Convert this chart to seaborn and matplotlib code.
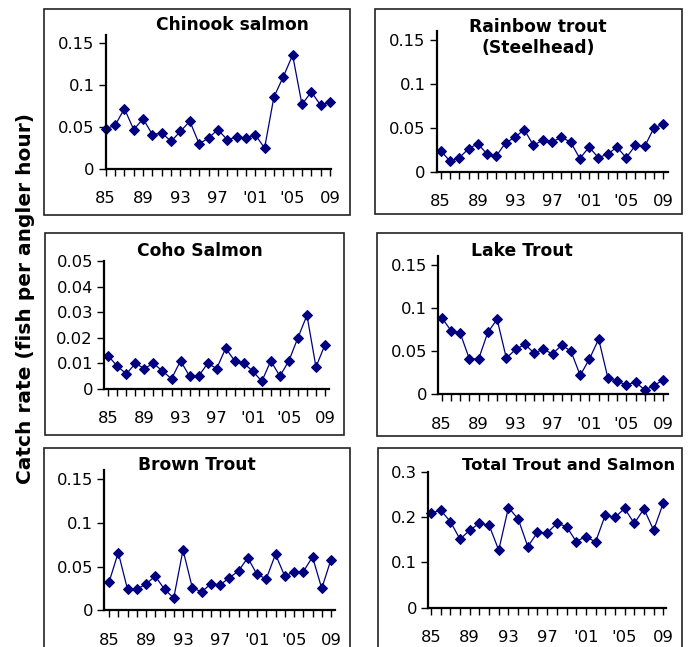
import matplotlib
matplotlib.use("Agg")
import matplotlib.pyplot as plt
from matplotlib.patches import Rectangle
import seaborn as sns
import pandas as pd

# ---------------- data ----------------
years = list(range(1985, 2010))
chinook = [0.048, 0.052, 0.072, 0.047, 0.060, 0.041, 0.043, 0.033, 0.045, 0.057,
           0.030, 0.037, 0.047, 0.035, 0.038, 0.037, 0.041, 0.025, 0.086, 0.110,
           0.136, 0.077, 0.092, 0.076, 0.080]
rainbow = [0.024, 0.012, 0.016, 0.026, 0.032, 0.020, 0.018, 0.033, 0.039, 0.048,
           0.030, 0.036, 0.034, 0.039, 0.034, 0.015, 0.028, 0.016, 0.020, 0.028,
           0.016, 0.030, 0.029, 0.050, 0.054]
coho = [0.0129, 0.0089, 0.0059, 0.010, 0.008, 0.010, 0.007, 0.004, 0.011, 0.005,
        0.005, 0.010, 0.008, 0.0159, 0.011, 0.010, 0.007, 0.003, 0.011, 0.005,
        0.011, 0.020, 0.0288, 0.0086, 0.0173]
lake = [0.089, 0.074, 0.071, 0.041, 0.041, 0.072, 0.087, 0.042, 0.052, 0.058,
        0.048, 0.052, 0.047, 0.057, 0.050, 0.022, 0.041, 0.064, 0.019, 0.015,
        0.011, 0.014, 0.005, 0.010, 0.017]
brown = [0.032, 0.066, 0.024, 0.024, 0.030, 0.039, 0.024, 0.014, 0.069, 0.026,
         0.021, 0.030, 0.029, 0.037, 0.045, 0.060, 0.041, 0.036, 0.064, 0.039,
         0.044, 0.044, 0.061, 0.025, 0.058]
total = [0.209, 0.215, 0.190, 0.151, 0.171, 0.186, 0.182, 0.127, 0.221, 0.196,
         0.135, 0.166, 0.165, 0.186, 0.179, 0.146, 0.157, 0.145, 0.204, 0.199,
         0.219, 0.186, 0.218, 0.171, 0.231]

titles = ["Chinook salmon", "Rainbow trout\n(Steelhead)", "Coho Salmon",
          "Lake Trout", "Brown Trout", "Total Trout and Salmon"]
series = [chinook, rainbow, coho, lake, brown, total]

xtick_years = [1985, 1989, 1993, 1997, 2001, 2005, 2009]
xtick_labels = ["85", "89", "93", "97", "'01", "'05", "09"]

yticks_std = [0, 0.05, 0.1, 0.15]
ylabels_std = ["0", "0.05", "0.1", "0.15"]
yticks_coho = [0, 0.01, 0.02, 0.03, 0.04, 0.05]
ylabels_coho = ["0", "0.01", "0.02", "0.03", "0.04", "0.05"]
yticks_total = [0, 0.1, 0.2, 0.3]
ylabels_total = ["0", "0.1", "0.2", "0.3"]
yticks_all = [yticks_std, yticks_std, yticks_coho, yticks_std, yticks_std, yticks_total]
ylabels_all = [ylabels_std, ylabels_std, ylabels_coho, ylabels_std, ylabels_std, ylabels_total]
ymax_all = [0.16, 0.16, 0.05, 0.16, 0.16, 0.3]

ylabel_text = "Catch rate (fish per angler hour)"

# ---------------- layout (pixels) ----------------
W, H = 689, 647
# (spine left px, axis right px, x of 1985 px, x of 2009 px, y of 0 px, y of ref tick px, ref tick value)
geom = [
    (105.7, 331.0, 105.7, 330.0, 169.0, 43.3, 0.15),
    (436.7, 667.7, 440.7, 663.3, 171.7, 40.0, 0.15),
    (104.0, 329.3, 108.3, 325.0, 389.0, 261.0, 0.05),
    (438.3, 667.7, 441.7, 663.3, 394.3, 265.0, 0.15),
    (104.0, 335.0, 109.0, 331.0, 610.3, 479.0, 0.15),
    (428.3, 666.0, 431.0, 663.3, 607.7, 471.7, 0.3),
]
title_pos = [(232, 25), (538, 37.5), (200, 251), (522, 251), (197, 465), (569, 466)]
title_size = [12.3, 12.3, 12.3, 12.3, 12.3, 11.8]
boxes = [(44, 9, 350, 215), (375, 9, 682, 214), (45, 233, 344, 435),
         (377, 233, 682, 436), (44, 448, 350, 660), (378, 448, 682, 660)]

sns.set_style("ticks")
plt.rcParams["font.family"] = ["DejaVu Sans"]
plt.rcParams["text.color"] = "black"
plt.rcParams["xtick.color"] = "black"
plt.rcParams["ytick.color"] = "black"
plt.rcParams["axes.labelcolor"] = "black"

fig = plt.figure(figsize=(W / 100, H / 100), dpi=100)

navy = "#000080"

for i, (vals, title) in enumerate(zip(series, titles)):
    xl, xr, x85, x09, y0, yref, vref = geom[i]
    ymax = ymax_all[i]
    ppy = (y0 - yref) / vref          # pixels per unit
    ytop = y0 - ymax * ppy
    ax = fig.add_axes([xl / W, (H - y0) / H, (xr - xl) / W, (y0 - ytop) / H])
    s = (x09 - x85) / 24.0
    ax.set_xlim(1985 + (xl - x85) / s, 2009 + (xr - x09) / s)
    ax.set_ylim(0, ymax)

    df = pd.DataFrame({"year": years, "rate": vals})
    sns.lineplot(data=df, x="year", y="rate", ax=ax, color=navy, marker="D",
                 markersize=5.4, markeredgecolor=navy, markerfacecolor=navy,
                 linewidth=0.9, clip_on=False)
    ax.set_xlabel("")
    ax.set_ylabel("")
    ax.set_facecolor("none")
    for side in ["top", "right"]:
        ax.spines[side].set_visible(False)
    for side in ["left", "bottom"]:
        ax.spines[side].set_linewidth(1.6)
        ax.spines[side].set_color("black")

    ax.set_xticks(years)
    ax.set_xticklabels([xtick_labels[xtick_years.index(y)] if y in xtick_years else ""
                        for y in years])
    ax.tick_params(axis="x", direction="out", length=5, width=1.0, pad=11,
                   labelsize=11.8, colors="black")
    ax.set_yticks(yticks_all[i])
    ax.set_yticklabels(ylabels_all[i])
    ax.tick_params(axis="y", direction="out", length=5, width=1.0, pad=3,
                   labelsize=11.8, colors="black")

    tx, ty = title_pos[i]
    fig.text(tx / W, 1 - ty / H, title, ha="center", va="center",
             fontsize=title_size[i], fontweight="bold", linespacing=1.25,
             color="black")

for (x0, y0b, x1, y1) in boxes:
    rect = Rectangle((x0 / W, 1 - y1 / H), (x1 - x0) / W, (y1 - y0b) / H,
                     transform=fig.transFigure, fill=False, edgecolor="#222222",
                     linewidth=1.2, zorder=0)
    fig.patches.append(rect)

fig.text(26 / W, 1 - 298 / H, ylabel_text, rotation=90, ha="center", va="center",
         fontsize=14.5, fontweight="bold", color="black")

fig.savefig("out.png", dpi=100)
